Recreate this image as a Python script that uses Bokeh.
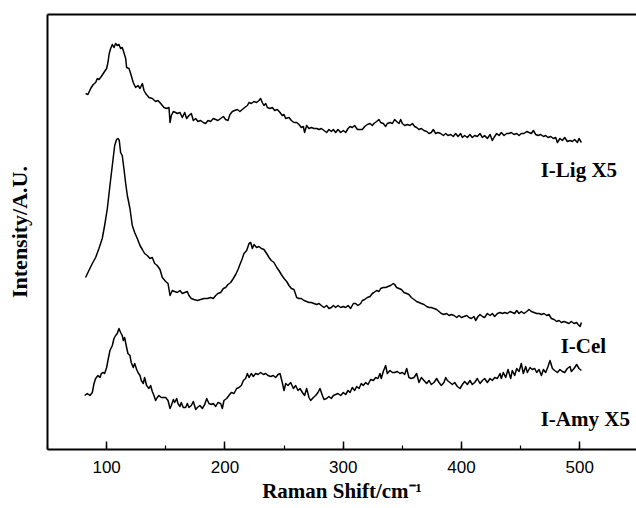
from bokeh.plotting import figure
from bokeh.models import Range1d, LinearAxis, SingleIntervalTicker, FixedTicker, Label
from bokeh.embed import file_html
from bokeh.resources import INLINE

# ---------------- data ----------------
# Raman shift (cm^-1) and intensity (a.u., arbitrary offsets as plotted)
lig_shift = [
    82.2, 84.2, 86.5, 88.7, 90.7, 92.1, 93.5, 95.5, 97.7, 100.0,
    101.1, 102.2, 103.4, 104.8, 106.2, 107.6, 109.0, 110.4, 111.8, 113.2,
    114.6, 116.1, 116.9, 118.9, 120.3, 122.5, 124.5, 126.5, 128.2, 130.2,
    131.6, 133.0, 135.8, 138.6, 141.4, 143.4, 145.7, 148.5, 150.7, 152.7,
    153.6, 154.7, 156.4, 158.3, 159.8, 162.0, 164.0, 166.0, 167.6, 169.6,
    171.6, 173.3, 175.3, 177.2, 179.5, 181.7, 183.7, 185.7, 187.9, 190.2,
    192.2, 194.1, 196.4, 198.7, 200.6, 202.6, 204.3, 206.3, 208.2, 210.5,
    212.7, 214.7, 216.7, 219.0, 220.4, 222.3, 224.6, 226.8, 228.8, 230.2,
    231.6, 233.0, 234.5, 235.9, 238.1, 240.1, 242.1, 244.3, 246.6, 248.5,
    250.0, 251.4, 254.2, 256.2, 258.4, 260.7, 262.6, 264.6, 266.3, 267.4,
    269.1, 271.1, 273.1, 275.3, 277.6, 279.6, 281.5, 283.8, 286.0, 288.0,
    290.0,
    291.7, 293.6, 295.6, 297.9, 300.1, 302.1, 304.1, 305.8, 307.7, 309.7,
    312.0, 314.2, 316.2, 318.2, 320.4, 322.7, 324.6, 326.0, 328.3, 330.3,
    331.7, 333.9, 335.9, 337.3, 339.6, 341.6, 343.5, 345.2, 347.2, 348.6,
    350.0, 352.0, 354.2, 356.5, 358.5, 360.4, 362.1, 364.1, 366.1, 368.3,
    370.6, 372.6, 374.5, 376.2, 378.2, 380.2, 382.4, 384.7, 386.7, 388.6,
    390.9, 393.1, 395.1, 397.1, 399.3, 400.8, 402.7, 405.0, 407.2, 409.2,
    411.2, 413.4, 415.7, 417.7, 419.6, 421.9, 424.2, 426.1, 427.5, 429.8,
    431.8, 433.7, 436.0, 438.2, 440.2, 442.2, 444.4, 446.7, 448.7, 450.6,
    452.9, 455.2, 457.1, 459.1, 460.8, 462.8, 464.7, 467.0, 469.3, 471.2,
    473.2, 475.5, 477.7, 479.7, 481.1, 483.3, 485.3, 487.3, 489.5, 491.8,
    493.8, 495.7, 498.0, 499.4, 501.4,
]
lig_intensity = [
    356, 355, 361, 365, 367, 371, 370, 373, 377, 381,
    387, 396, 401, 405, 402, 406, 404, 405, 401, 402,
    397, 391, 382, 381, 376, 367, 362, 364, 361, 366,
    359, 356, 352, 351, 348, 349, 346, 342, 341, 342,
    327, 334, 338, 337, 336, 337, 332, 337, 331, 334,
    336, 329, 331, 328, 329, 327, 326, 329, 328, 331,
    330, 329, 331, 333, 330, 329, 335, 338, 339, 340,
    338, 340, 342, 344, 347, 346, 348, 347, 349, 351,
    347, 344, 346, 342, 341, 342, 339, 340, 337, 334,
    335, 331, 332, 329, 327, 327, 325, 322, 323, 317,
    324, 321, 322, 321, 321, 320, 321, 319, 317, 320,
    318,
    320, 317, 320, 317, 319, 317, 321, 323, 322, 324,
    320, 320, 320, 323, 325, 326, 324, 326, 328, 330,
    327, 326, 323, 326, 327, 326, 330, 328, 326, 330,
    326, 324, 325, 324, 326, 323, 322, 320, 321, 319,
    318, 316, 317, 320, 316, 317, 316, 314, 316, 314,
    315, 313, 316, 313, 316, 312, 314, 312, 315, 312,
    314, 313, 316, 312, 314, 311, 315, 309, 312, 316,
    314, 317, 314, 316, 316, 317, 315, 316, 314, 316,
    316, 318, 317, 316, 319, 315, 314, 315, 313, 314,
    312, 313, 311, 312, 307, 311, 309, 312, 308, 309,
    308, 310, 307, 311, 307,
]

cel_shift = [
    82.2, 85.0, 87.9, 90.7, 93.5, 96.3, 98.3, 100.6, 102.8, 104.8,
    106.8, 108.4, 109.6, 110.7, 111.8, 113.2, 114.6, 116.1, 117.5, 119.7,
    121.7, 123.7, 125.9, 128.2, 130.2, 132.1, 134.4, 136.6, 138.6, 140.6,
    142.8, 145.1, 147.1, 149.9, 151.9, 153.6, 155.5, 157.5, 159.8, 162.0,
    164.0, 166.0, 168.2, 169.6, 171.6, 173.8, 176.7, 179.5, 182.3, 185.1,
    187.9, 190.2, 192.2, 194.1, 196.4, 198.7, 200.6, 202.6, 204.9, 207.1,
    209.1, 211.1, 212.7, 214.7, 216.1, 218.4, 220.4, 221.8, 223.2, 224.6,
    226.8, 228.8, 230.8, 233.0, 235.3, 237.3, 239.2, 241.5, 243.8, 245.7,
    247.7, 250.0, 252.2, 254.2, 256.2, 258.4, 260.7, 262.6, 264.6, 266.9,
    269.1, 271.1, 273.1, 275.3, 277.6, 279.6, 281.5, 283.8, 286.0, 288.0,
    290.0,
    291.7, 293.6, 295.6, 297.9, 300.1, 302.1, 304.1, 306.3, 308.6, 310.5,
    312.5, 314.8, 316.2, 318.2, 320.4, 322.7, 324.6, 326.0, 328.3, 330.3,
    331.7, 333.9, 335.9, 337.9, 340.1, 342.4, 343.5, 345.2, 347.2, 349.2,
    351.4, 353.7, 355.6, 357.6, 359.9, 362.1, 364.1, 366.1, 368.3, 370.6,
    372.6, 374.5, 376.8, 379.0, 381.0, 383.0, 385.2, 387.5, 389.5, 391.4,
    393.7, 396.0, 397.9, 399.9, 402.2, 404.4, 406.4, 408.4, 410.6, 412.0,
    414.0, 415.7, 417.7, 419.6, 421.9, 424.2, 426.1, 428.1, 430.4, 432.6,
    434.6, 436.6, 438.8, 441.1, 443.0, 445.0, 446.7, 448.7, 450.6, 452.9,
    455.2, 457.1, 459.1, 461.4, 463.6, 465.6, 467.6, 469.8, 472.1, 474.0,
    476.0, 478.3, 480.5, 482.5, 484.5, 486.7, 489.0, 490.9, 492.9, 495.2,
    497.4, 498.6, 500.3, 501.4,
]
cel_intensity = [
    172, 179, 186, 192, 201, 211, 224, 241, 264, 284,
    304, 310, 311, 309, 297, 294, 281, 266, 254, 241,
    224, 217, 211, 204, 200, 196, 194, 191, 192, 186,
    184, 180, 172, 168, 166, 154, 159, 158, 157, 159,
    156, 157, 158, 154, 151, 150, 149, 150, 151, 151,
    152, 151, 154, 156, 157, 161, 162, 165, 167, 171,
    175, 180, 185, 191, 196, 199, 206, 207, 201, 205,
    202, 203, 201, 200, 196, 192, 189, 187, 182, 179,
    175, 171, 168, 164, 161, 160, 152, 151, 151, 149,
    148, 147, 147, 146, 145, 146, 144, 142, 144, 141,
    142,
    144, 142, 144, 142, 143, 142, 144, 141, 146, 146,
    144, 146, 149, 150, 152, 153, 156, 157, 159, 158,
    161, 162, 162, 163, 164, 166, 165, 162, 161, 160,
    157, 156, 155, 152, 150, 148, 147, 146, 145, 143,
    142, 142, 141, 140, 138, 136, 135, 136, 134, 135,
    134, 132, 134, 132, 133, 134, 132, 131, 133, 129,
    133, 135, 133, 132, 136, 134, 136, 133, 136, 137,
    136, 137, 136, 138, 137, 136, 139, 136, 138, 136,
    138, 140, 138, 137, 136, 136, 135, 136, 134, 135,
    131, 130, 128, 129, 127, 128, 127, 126, 128, 126,
    127, 125, 123, 127,
]

amy_shift = [
    81.4, 83.6, 85.9, 87.9, 89.3, 90.7, 92.7, 94.4, 95.5, 97.2,
    98.3, 100.0, 101.1, 102.8, 104.8, 106.2, 107.6, 109.0, 110.4, 111.8,
    113.2, 114.1, 115.2, 116.9, 118.0, 119.7, 120.8, 122.5, 123.7, 125.4,
    126.5, 128.2, 129.3, 131.0, 132.1, 133.8, 135.8, 137.2, 138.6, 140.0,
    141.4, 142.8, 144.2, 146.2, 147.9, 149.9, 151.9, 153.6, 154.7, 156.4,
    157.5, 159.2, 160.3, 162.0, 163.1, 164.8, 166.8, 168.2, 169.6, 171.6,
    173.3, 175.3, 176.7, 178.9, 180.9, 182.9, 184.6, 186.5, 188.5, 190.2,
    192.2, 194.1, 196.4, 197.8, 199.2, 201.5, 203.4, 205.4, 207.7, 209.9,
    211.9, 213.9, 215.6, 217.5, 219.0, 220.4, 222.3, 224.0, 226.0, 228.0,
    230.2, 232.5, 234.5, 236.4, 238.7, 240.9, 242.9, 244.9, 246.6, 248.5,
    250.0, 251.4, 253.3, 255.6, 257.9, 259.8, 261.8, 263.5, 265.5, 267.4,
    269.1, 271.1, 272.5, 274.8, 276.7, 278.7, 280.4, 282.4, 283.8, 286.0,
    288.0, 290.0,
    291.7, 293.6, 295.6, 297.9, 300.1, 302.1, 304.1, 305.8, 307.7, 309.7,
    311.4, 313.4, 315.3, 317.0, 319.0, 321.0, 323.2, 325.5, 327.5, 329.4,
    331.1, 332.2, 333.9, 335.9, 337.3, 339.6, 341.6, 343.5, 345.8, 348.0,
    350.0, 352.0, 353.7, 355.6, 357.6, 359.9, 362.1, 364.1, 366.1, 368.3,
    370.6, 372.6, 374.5, 376.8, 379.0, 381.0, 383.0, 385.2, 386.7, 388.1,
    390.3, 392.3, 394.3, 396.5, 398.8, 400.8, 402.7, 405.0, 407.2, 409.2,
    411.2, 413.4, 415.7, 417.7, 419.6, 421.9, 424.2, 426.1, 428.1, 430.4,
    432.6, 433.7, 435.4, 437.4, 439.4, 441.6, 443.0, 445.0, 446.7, 448.7,
    450.6, 452.3, 454.3, 455.7, 458.0, 459.9, 461.9, 463.6, 465.6, 467.6,
    469.3, 471.2, 473.2, 474.9, 476.9, 478.8, 481.1, 483.3, 485.3, 487.3,
    489.5, 491.8, 492.9, 495.2, 497.4, 499.4, 501.4,
]
amy_intensity = [
    54, 56, 54, 57, 66, 71, 74, 72, 76, 77,
    76, 82, 89, 99, 104, 111, 114, 116, 121, 117,
    114, 109, 112, 102, 96, 94, 87, 82, 86, 80,
    77, 74, 69, 66, 72, 64, 61, 64, 58, 54,
    49, 52, 54, 52, 52, 52, 49, 41, 44, 50,
    47, 51, 46, 43, 47, 42, 42, 46, 42, 44,
    48, 40, 42, 44, 41, 45, 51, 46, 45, 46,
    43, 47, 46, 41, 49, 51, 54, 57, 56, 61,
    62, 64, 69, 71, 76, 72, 76, 73, 76, 75,
    77, 75, 76, 74, 73, 74, 72, 75, 76, 67,
    59, 66, 64, 67, 61, 64, 59, 61, 57, 54,
    61, 52, 49, 52, 54, 57, 61, 54, 50, 51,
    53, 51,
    54, 55, 56, 54, 57, 55, 59, 57, 62, 59,
    63, 61, 66, 64, 67, 65, 70, 69, 72, 71,
    76, 71, 78, 84, 76, 79, 77, 77, 78, 76,
    77, 75, 81, 72, 71, 72, 76, 67, 72, 69,
    66, 69, 65, 67, 71, 67, 64, 67, 72, 69,
    67, 65, 67, 63, 61, 65, 68, 65, 69, 65,
    67, 71, 66, 69, 71, 67, 71, 69, 72, 71,
    76, 71, 77, 72, 80, 71, 79, 74, 81, 78,
    86, 76, 83, 77, 82, 80, 81, 77, 80, 74,
    80, 77, 83, 89, 81, 79, 77, 80, 78, 77,
    81, 83, 78, 81, 85, 81, 79,
]

series_names = ["I-Lig X5", "I-Cel", "I-Amy X5"]
label_shift = [467.0, 483.9, 467.0]
label_intensity = [280, 104, 31]

x_ticks_interval = 100
x_label = "Raman Shift/cm\u207b\u00b9"
y_label = "Intensity/A.U."

assert len(lig_shift) == len(lig_intensity), (len(lig_shift), len(lig_intensity))
assert len(cel_shift) == len(cel_intensity), (len(cel_shift), len(cel_intensity))
assert len(amy_shift) == len(amy_intensity), (len(amy_shift), len(amy_intensity))

# ---------------- figure ----------------
SERIF = "Liberation Serif"
SANS = "Liberation Sans"

p = figure(width=636, height=508, output_backend="svg", toolbar_location=None,
           x_range=Range1d(50, 548), y_range=Range1d(0, 435),
           x_axis_type=None, y_axis_type=None,
           min_border_left=47, min_border_right=0, min_border_top=14, min_border_bottom=59)
p.outline_line_color = None
p.xgrid.visible = False
p.ygrid.visible = False
p.background_fill_color = "white"
p.border_fill_color = "white"

xaxis = LinearAxis(ticker=SingleIntervalTicker(interval=x_ticks_interval, num_minor_ticks=2),
                   axis_label=x_label)
xaxis.axis_line_width = 2
xaxis.axis_line_color = "black"
xaxis.major_tick_in = 8
xaxis.major_tick_out = 0
xaxis.minor_tick_in = 4
xaxis.minor_tick_out = 0
xaxis.major_tick_line_width = 1.5
xaxis.minor_tick_line_width = 1.2
xaxis.major_tick_line_color = "black"
xaxis.minor_tick_line_color = "black"
xaxis.major_label_text_font = SANS
xaxis.major_label_text_font_size = "17px"
xaxis.major_label_text_color = "black"
xaxis.major_label_standoff = 11
xaxis.axis_label_text_font = SERIF
xaxis.axis_label_text_font_style = "bold"
xaxis.axis_label_text_font_size = "21px"
xaxis.axis_label_text_color = "black"
xaxis.axis_label_standoff = 3
p.add_layout(xaxis, "below")

yaxis = LinearAxis(ticker=FixedTicker(ticks=[]), axis_label=y_label)
yaxis.axis_line_width = 2
yaxis.axis_line_color = "black"
yaxis.major_label_text_font_size = "0px"
yaxis.axis_label_text_font = SERIF
yaxis.axis_label_text_font_style = "bold"
yaxis.axis_label_text_font_size = "22px"
yaxis.axis_label_text_color = "black"
yaxis.axis_label_standoff = 16
p.add_layout(yaxis, "left")

top = LinearAxis(ticker=FixedTicker(ticks=[]))
top.axis_line_width = 2
top.axis_line_color = "black"
top.major_label_text_font_size = "0px"
top.major_tick_in = 0
top.major_tick_out = 0
top.minor_tick_in = 0
top.minor_tick_out = 0
p.add_layout(top, "above")

for xs, ys in [(lig_shift, lig_intensity), (cel_shift, cel_intensity), (amy_shift, amy_intensity)]:
    p.line(xs, ys, line_color="black", line_width=1.5, line_join="round")

for name, lx, ly in zip(series_names, label_shift, label_intensity):
    p.add_layout(Label(x=lx, y=ly, text=name, text_font=SERIF, text_font_style="bold",
                       text_font_size="21px", text_color="black", text_baseline="alphabetic",
                       text_align="left"))

open("out.html", "w").write(file_html(p, INLINE))
